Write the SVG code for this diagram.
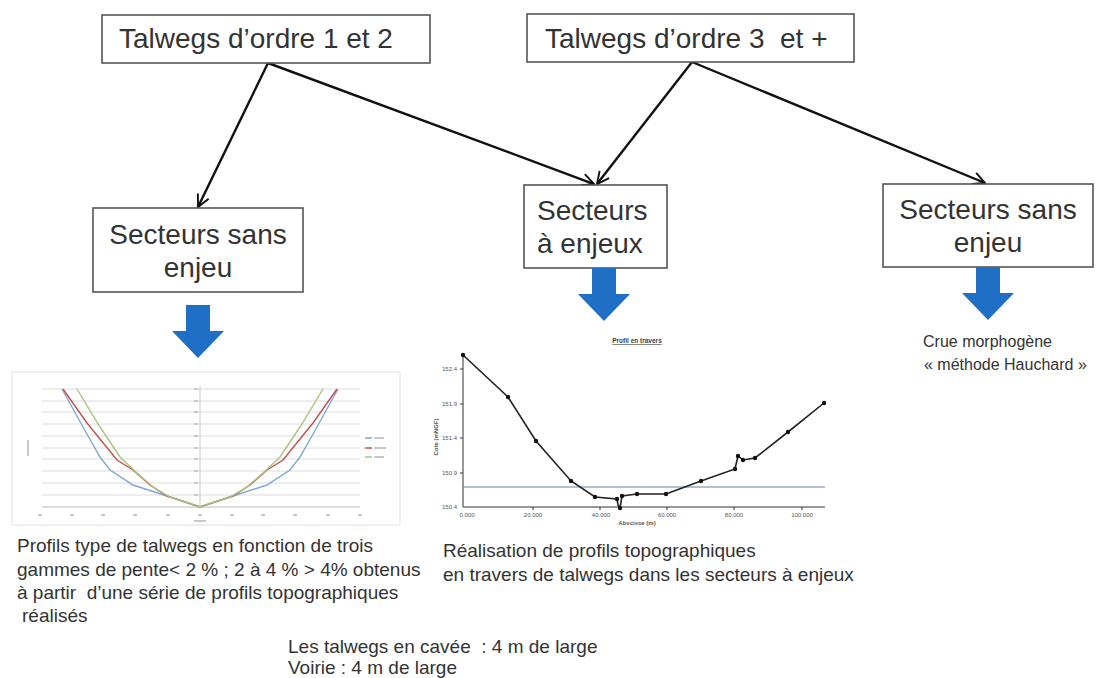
<svg xmlns="http://www.w3.org/2000/svg" width="1120" height="678" viewBox="0 0 1120 678">
<defs>
<style>
.box{fill:#fff;stroke:#555;stroke-width:1.6}
.bt{font-family:"Liberation Sans",Arial,sans-serif;font-size:28px;fill:#333}
.t{font-family:"Liberation Sans",Arial,sans-serif;font-size:19px;fill:#333}
.t16{font-family:"Liberation Sans",Arial,sans-serif;font-size:16px;fill:#333}
.conn{stroke:#111;stroke-width:2.4;fill:none;marker-end:url(#ah)}
.blue{fill:#1f6fc6}
.grid{stroke:#dcdcdc;stroke-width:1}
.lbl{fill:#c8c8c8}
.small{font-family:"Liberation Sans",Arial,sans-serif;font-size:6px;fill:#555}
</style>
<marker id="ah" viewBox="0 0 12 12" refX="11" refY="6" markerWidth="6" markerHeight="6" markerUnits="strokeWidth" orient="auto">
<path d="M1,1 L11,6 L1,11" fill="none" stroke="#111" stroke-width="1.6"/>
</marker>
<path id="bluearrow" d="M-12,0 H12 V26 H26 L0,53 L-26,26 H-12 Z"/>
</defs>
<rect width="1120" height="678" fill="#fff"/>

<g id="connectors">
<line class="conn" x1="268" y1="63" x2="198" y2="207"/>
<line class="conn" x1="268" y1="63" x2="594" y2="184"/>
<line class="conn" x1="692" y1="62" x2="597" y2="184"/>
<line class="conn" x1="692" y1="62" x2="985" y2="183"/>
</g>

<g id="n-ordre12">
<rect class="box" x="102" y="15" width="328" height="48"/>
<text class="bt" x="119" y="48">Talwegs d’ordre 1 et 2</text>
</g>
<g id="n-ordre3">
<rect class="box" x="527" y="14" width="327" height="48"/>
<text class="bt" x="545" y="48" xml:space="preserve">Talwegs d’ordre 3  et +</text>
</g>
<g id="n-sans-enjeu-1">
<rect class="box" x="93" y="208" width="210" height="84"/>
<text class="bt" x="198" y="244" text-anchor="middle">Secteurs sans</text>
<text class="bt" x="198" y="277" text-anchor="middle">enjeu</text>
</g>
<g id="n-enjeux">
<rect class="box" x="524" y="185" width="143" height="83"/>
<text class="bt" x="537" y="220">Secteurs</text>
<text class="bt" x="537" y="253">à enjeux</text>
</g>
<g id="n-sans-enjeu-2">
<rect class="box" x="883" y="184" width="210" height="83"/>
<text class="bt" x="988" y="219" text-anchor="middle">Secteurs sans</text>
<text class="bt" x="988" y="252" text-anchor="middle">enjeu</text>
</g>

<g id="blue-arrows">
<use href="#bluearrow" class="blue" x="198" y="305"/>
<use href="#bluearrow" class="blue" x="604" y="268"/>
<use href="#bluearrow" class="blue" x="988" y="267"/>
</g>

<g id="crue-text">
<text class="t16" x="923" y="347">Crue morphogène</text>
<text class="t16" x="924" y="370">« méthode Hauchard »</text>
</g>

<g id="chart-left">
<rect x="12" y="372" width="388" height="153" fill="#fff" stroke="#e2e2e2" stroke-width="1"/>
<g class="grid">
<line x1="42" y1="389" x2="360" y2="389"/>
<line x1="42" y1="401" x2="360" y2="401"/>
<line x1="42" y1="412" x2="360" y2="412"/>
<line x1="42" y1="424" x2="360" y2="424"/>
<line x1="42" y1="436" x2="360" y2="436"/>
<line x1="42" y1="448" x2="360" y2="448"/>
<line x1="42" y1="459" x2="360" y2="459"/>
<line x1="42" y1="471" x2="360" y2="471"/>
<line x1="42" y1="483" x2="360" y2="483"/>
<line x1="42" y1="495" x2="360" y2="495"/>
</g>
<line x1="42" y1="507" x2="360" y2="507" stroke="#bbb" stroke-width="1"/>
<line x1="200" y1="386" x2="200" y2="507" stroke="#c8c8c8" stroke-width="1"/>
<g class="lbl">
<rect x="194" y="388" width="4" height="2"/><rect x="194" y="400" width="4" height="2"/>
<rect x="194" y="411" width="4" height="2"/><rect x="194" y="423" width="4" height="2"/>
<rect x="194" y="435" width="4" height="2"/><rect x="194" y="447" width="4" height="2"/>
<rect x="194" y="458" width="4" height="2"/><rect x="194" y="470" width="4" height="2"/>
<rect x="194" y="482" width="4" height="2"/><rect x="194" y="494" width="4" height="2"/>
<rect x="38" y="514" width="4" height="2"/><rect x="70" y="514" width="4" height="2"/>
<rect x="101" y="514" width="4" height="2"/><rect x="133" y="514" width="4" height="2"/>
<rect x="166" y="514" width="4" height="2"/><rect x="198" y="514" width="4" height="2"/>
<rect x="230" y="514" width="4" height="2"/><rect x="261" y="514" width="4" height="2"/>
<rect x="293" y="514" width="4" height="2"/><rect x="326" y="514" width="4" height="2"/>
<rect x="358" y="514" width="4" height="2"/>
<rect x="194" y="520" width="12" height="2"/>
<rect x="27" y="440" width="2" height="16"/>
<rect x="374" y="437" width="10" height="2"/><rect x="374" y="447" width="12" height="2"/><rect x="374" y="456" width="10" height="2"/>
</g>
<line x1="365" y1="438" x2="372" y2="438" stroke="#7fa7d8" stroke-width="1.5"/>
<line x1="365" y1="448" x2="372" y2="448" stroke="#c0504d" stroke-width="1.5"/>
<line x1="365" y1="457" x2="372" y2="457" stroke="#a9c47f" stroke-width="1.5"/>
<polyline fill="none" stroke="#7fa7d8" stroke-width="1.4" points="62,389 83,427 100,457 110,470 133,485 167,496 200,507 233,496 267,485 290,470 300,457 317,427 338,389"/>
<polyline fill="none" stroke="#c0504d" stroke-width="1.4" points="63,389 87,423 117,460 133,470 150,485 167,496 200,507 233,496 250,485 267,470 283,460 313,423 337,389"/>
<polyline fill="none" stroke="#a9c47f" stroke-width="1.4" points="77,389 100,427 120,457 137,473 153,487 170,497 200,507 230,497 247,487 263,473 280,457 300,427 323,389"/>
</g>

<g id="chart-middle">
<text x="637" y="343" text-anchor="middle" font-family="Liberation Sans, Arial, sans-serif" font-size="6.5" font-weight="bold" fill="#444" text-decoration="underline">Profil en travers</text>
<line x1="463" y1="353" x2="463" y2="507" stroke="#333" stroke-width="1"/>
<line x1="463" y1="507" x2="825" y2="507" stroke="#333" stroke-width="1"/>
<g stroke="#333" stroke-width="1">
<line x1="460" y1="369" x2="463" y2="369"/><line x1="460" y1="404" x2="463" y2="404"/>
<line x1="460" y1="438" x2="463" y2="438"/><line x1="460" y1="473" x2="463" y2="473"/>
<line x1="533" y1="507" x2="533" y2="510"/><line x1="600" y1="507" x2="600" y2="510"/>
<line x1="667" y1="507" x2="667" y2="510"/><line x1="734" y1="507" x2="734" y2="510"/>
<line x1="802" y1="507" x2="802" y2="510"/>
</g>
<g class="small" text-anchor="end">
<text x="457" y="371">152.4</text>
<text x="457" y="406">151.9</text>
<text x="457" y="440">151.4</text>
<text x="457" y="475">150.9</text>
<text x="457" y="509">150.4</text>
</g>
<g class="small" text-anchor="middle">
<text x="467" y="517">0.000</text>
<text x="533" y="517">20.000</text>
<text x="601" y="517">40.000</text>
<text x="667" y="517">60.000</text>
<text x="734" y="517">80.000</text>
<text x="802" y="517">100.000</text>
<text x="637" y="525" font-weight="bold">Abscisse (m)</text>
<text x="438" y="437" font-weight="bold" transform="rotate(-90 438 437)">Cote (mNGF)</text>
</g>
<line x1="463" y1="487" x2="825" y2="487" stroke="#6e7fb0" stroke-width="1.2"/>
<polyline fill="none" stroke="#222" stroke-width="1.6" points="463,355 508,397 536,441 571,481 595,497 617,499 618,505 620,508 622,496 637,494 666,494 701,481 735,469 738,456 743,460 755,458 788,432 824,403"/>
<g fill="#111">
<circle cx="463" cy="355" r="2.2"/><circle cx="508" cy="397" r="2.2"/><circle cx="536" cy="441" r="2.2"/>
<circle cx="571" cy="481" r="2.2"/><circle cx="595" cy="497" r="2.2"/><circle cx="617" cy="499" r="2.2"/>
<circle cx="620" cy="508" r="2.2"/><circle cx="622" cy="496" r="2.2"/><circle cx="637" cy="494" r="2.2"/>
<circle cx="666" cy="494" r="2.2"/><circle cx="701" cy="481" r="2.2"/><circle cx="735" cy="469" r="2.2"/>
<circle cx="738" cy="456" r="2.2"/><circle cx="743" cy="460" r="2.2"/><circle cx="755" cy="458" r="2.2"/>
<circle cx="788" cy="432" r="2.2"/><circle cx="824" cy="403" r="2.2"/>
</g>
</g>

<g id="text-left">
<text class="t" x="17" y="552">Profils type de talwegs en fonction de trois</text>
<text class="t" x="17" y="576">gammes de pente&lt; 2 % ; 2 à 4 % &gt; 4% obtenus</text>
<text class="t" x="17" y="599" xml:space="preserve">à partir  d’une série de profils topographiques</text>
<text class="t" x="22" y="622">réalisés</text>
</g>
<g id="text-middle">
<text class="t" x="443" y="557">Réalisation de profils topographiques</text>
<text class="t" x="443" y="581">en travers de talwegs dans les secteurs à enjeux</text>
</g>
<g id="text-bottom">
<text class="t" x="288" y="653" xml:space="preserve">Les talwegs en cavée  : 4 m de large</text>
<text class="t" x="288" y="674">Voirie : 4 m de large</text>
</g>
</svg>
